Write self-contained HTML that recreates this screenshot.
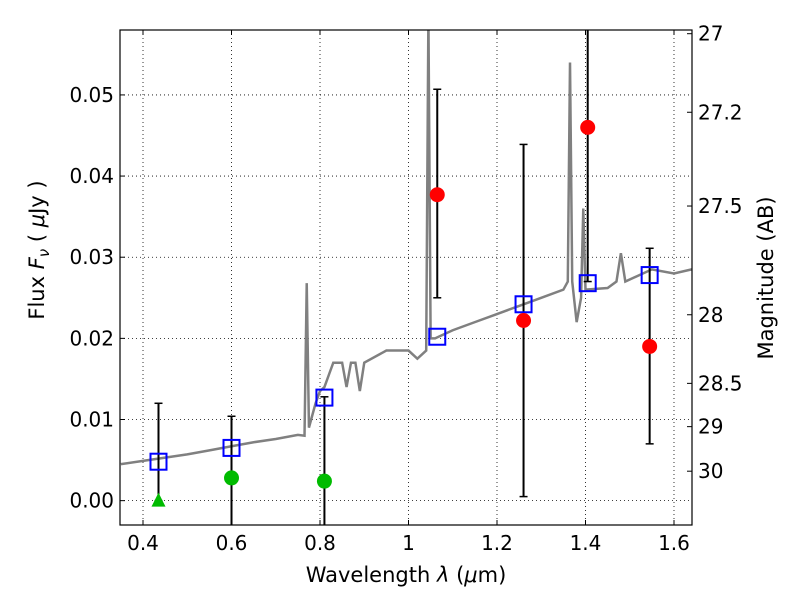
<!DOCTYPE html>
<html><head><meta charset="utf-8"><style>
body{margin:0;background:#fff;}
text{font-family:"DejaVu Sans","Liberation Sans",sans-serif;fill:#000;}
</style></head><body>
<svg id="chart" width="800" height="600" xmlns="http://www.w3.org/2000/svg"></svg>
<script>
const specX=[0.35,0.40,0.45,0.50,0.55,0.60,0.65,0.70,0.75,0.765,0.77,0.775,0.78,0.79,0.80,0.81,0.82,0.83,0.85,0.86,0.87,0.88,0.89,0.90,0.95,1.00,1.02,1.04,1.045,1.05,1.06,1.10,1.15,1.20,1.25,1.30,1.35,1.36,1.365,1.37,1.38,1.39,1.395,1.40,1.45,1.47,1.48,1.49,1.55,1.60,1.64];
const specY=[0.0045,0.0049,0.0053,0.0057,0.0062,0.0067,0.0072,0.0076,0.0081,0.0080,0.0268,0.0090,0.0100,0.0120,0.0135,0.0140,0.0155,0.0170,0.0170,0.0140,0.0170,0.0170,0.0135,0.0170,0.0185,0.0185,0.0175,0.0185,0.0600,0.0200,0.0200,0.0210,0.0220,0.0230,0.0240,0.0250,0.0260,0.0270,0.0540,0.0270,0.0220,0.0250,0.0360,0.0260,0.0262,0.0270,0.0305,0.0270,0.0285,0.0280,0.0285];
const redX=[1.065,1.26,1.405,1.545];
const redY=[0.0377,0.0222,0.046,0.019];
const redLo=[0.025,0.0005,0.027,0.007];
const redHi=[0.0507,0.0439,0.070,0.0311];
const greenX=[0.60,0.81];
const greenY=[0.0028,0.0024];
const greenLo=[-0.01,-0.01];
const greenHi=[0.0104,0.0128];
const triX=[0.435];const triY=[0.0];const triHi=[0.012];
const blueX=[0.435,0.60,0.81,1.065,1.26,1.405,1.545];
const blueY=[0.0048,0.0065,0.0127,0.0202,0.0242,0.0268,0.0278];
const xTicks=[0.4,0.6,0.8,1,1.2,1.4,1.6];
const xTickLabels=["0.4","0.6","0.8","1","1.2","1.4","1.6"];
const yTicks=[0,0.01,0.02,0.03,0.04,0.05];
const yTickLabels=["0.00","0.01","0.02","0.03","0.04","0.05"];
const magTicks=[27,27.2,27.5,28,28.5,29,30];
const magLabels=["27","27.2","27.5","28","28.5","29","30"];

const L=120,R=692,T=30,B=525;
const xmin=0.348,xmax=1.6407,ymin=-0.003,ymax=0.058;
const X=v=>L+(v-xmin)/(xmax-xmin)*(R-L);
const Y=v=>B-(v-ymin)/(ymax-ymin)*(B-T);
const magY=m=>Y(Math.pow(10,(23.9-m)/2.5));
const svg=document.getElementById('chart');
const NS="http://www.w3.org/2000/svg";
function mk(tag,at,parent){const e=document.createElementNS(NS,tag);for(const k in at)e.setAttribute(k,at[k]);(parent||svg).appendChild(e);return e;}
const defs=mk('defs',{});const cp=mk('clipPath',{id:'clip'},defs);mk('rect',{x:L,y:T,width:R-L,height:B-T},cp);
const grid=mk('g',{});


xTicks.forEach((v,i)=>{
 mk('line',{x1:X(v),x2:X(v),y1:T,y2:B,stroke:'#000','stroke-dasharray':'1,3','stroke-width':0.8},grid);
 mk('line',{x1:X(v),x2:X(v),y1:B,y2:B-5,stroke:'#000'});mk('line',{x1:X(v),x2:X(v),y1:T,y2:T+5,stroke:'#000'});
 const t=mk('text',{x:X(v),y:B+25,'text-anchor':'middle','font-size':20});t.textContent=xTickLabels[i];
 
 
});
yTicks.forEach((v,i)=>{
 mk('line',{x1:L,x2:R,y1:Y(v),y2:Y(v),stroke:'#000','stroke-dasharray':'1,3','stroke-width':0.8},grid);
 mk('line',{x1:L,x2:L+5,y1:Y(v),y2:Y(v),stroke:'#000'});
 const t=mk('text',{x:L-6,y:Y(v)+7,'text-anchor':'end','font-size':20});t.textContent=yTickLabels[i];
 
 
});
magTicks.forEach((m,i)=>{
 const y=magY(m);
 mk('line',{x1:R,x2:R-5,y1:y,y2:y,stroke:'#000'});
 const t=mk('text',{x:R+6,y:y+7,'font-size':20});t.textContent=magLabels[i];
 
 
});
const g=mk('g',{'clip-path':'url(#clip)'});
const sp=mk('polyline',{points:specX.map((x,i)=>X(x)+','+Y(specY[i])).join(' '),fill:'none',stroke:'#808080','stroke-width':2.5},g);


function errbar(x,lo,hi){
 mk('line',{x1:X(x),x2:X(x),y1:Y(lo),y2:Y(hi),stroke:'#000','stroke-width':2},g);
 mk('line',{x1:X(x)-4,x2:X(x)+4,y1:Y(lo),y2:Y(lo),stroke:'#000','stroke-width':1.5},g);
 mk('line',{x1:X(x)-4,x2:X(x)+4,y1:Y(hi),y2:Y(hi),stroke:'#000','stroke-width':1.5},g);
}
redX.forEach((x,i)=>errbar(x,redLo[i],redHi[i]));
greenX.forEach((x,i)=>errbar(x,greenLo[i],greenHi[i]));
triX.forEach((x,i)=>errbar(x,triY[i],triHi[i]));
blueX.forEach((x,i)=>{
 const r=mk('rect',{x:X(x)-8,y:Y(blueY[i])-8,width:16,height:16,fill:'none',stroke:'#0000ff','stroke-width':2},g);
 
 
});
redX.forEach((x,i)=>{
 const c=mk('circle',{cx:X(x),cy:Y(redY[i]),r:7.5,fill:'#ff0000'},g);
 
 
});
greenX.forEach((x,i)=>{
 const c=mk('circle',{cx:X(x),cy:Y(greenY[i]),r:7.5,fill:'#00bb00'},g);
 
 
});
triX.forEach((x,i)=>{
 const cx=X(x),cy=Y(triY[i]);
 const p=mk('polygon',{points:`${cx},${cy-8} ${cx-7},${cy+6} ${cx+7},${cy+6}`,fill:'#00bb00'},g);
 
 
});
const fr=mk('rect',{x:L,y:T,width:R-L,height:B-T,fill:'none',stroke:'#000','stroke-width':1.2});


const xl=mk('text',{x:406,y:582,'text-anchor':'middle','font-size':21,'xml:space':'preserve'});
xl.innerHTML='Wavelength  <tspan font-style="italic">λ</tspan> (<tspan font-style="italic">μ</tspan>m)';


const yl=mk('text',{x:44,y:250,'text-anchor':'middle','font-size':21,transform:'rotate(-90 44 250)','xml:space':'preserve'});
yl.innerHTML='Flux  <tspan font-style="italic">F</tspan><tspan font-style="italic" font-size="15" dy="5">ν</tspan><tspan dy="-5">  (  </tspan><tspan font-style="italic">μ</tspan>Jy )';


const ml=mk('text',{x:773,y:278,'text-anchor':'middle','font-size':21,transform:'rotate(-90 773 278)'});
ml.textContent='Magnitude (AB)';


</script>
</body></html>
